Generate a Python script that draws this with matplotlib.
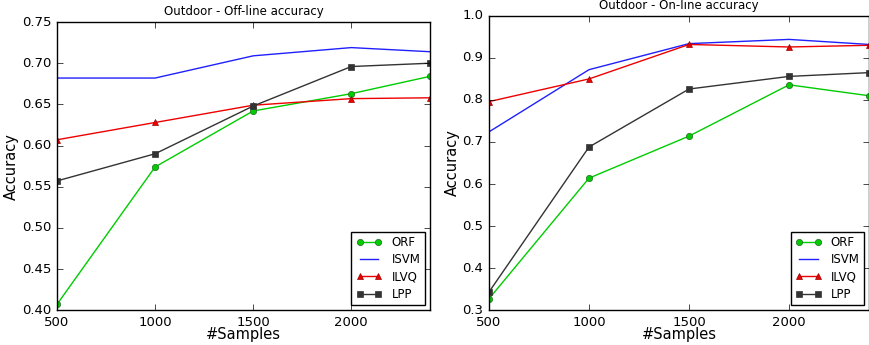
import matplotlib
matplotlib.use('Agg')
import matplotlib.pyplot as plt

plt.style.use('classic')

samples = [500, 1000, 1500, 2000, 2400]

off_orf = [0.407, 0.574, 0.642, 0.663, 0.684]
off_isvm = [0.682, 0.682, 0.709, 0.719, 0.714]
off_ilvq = [0.607, 0.628, 0.649, 0.657, 0.658]
off_lpp = [0.557, 0.590, 0.648, 0.696, 0.700]

on_orf = [0.327, 0.614, 0.714, 0.836, 0.810]
on_isvm = [0.724, 0.872, 0.934, 0.944, 0.932]
on_ilvq = [0.796, 0.850, 0.932, 0.926, 0.930]
on_lpp = [0.343, 0.688, 0.826, 0.856, 0.865]


def draw(ax, orf, isvm, ilvq, lpp, title, ylim, yticks):
    ax.plot(samples, orf, color='#00cc00', marker='o', markersize=4.5,
            markerfacecolor='#00cc00', markeredgecolor='#226622', lw=1, label='ORF')
    ax.plot(samples, isvm, color='#2020ff', lw=1, label='ISVM')
    ax.plot(samples, ilvq, color='#ee0000', marker='^', markersize=4.5,
            markerfacecolor='#ee0000', markeredgecolor='#990000', lw=1, label='ILVQ')
    ax.plot(samples, lpp, color='#333333', marker='s', markersize=4.5,
            markerfacecolor='#333333', markeredgecolor='#333333', lw=1, label='LPP')
    ax.set_xlim(500, 2400)
    ax.set_ylim(*ylim)
    ax.set_xticks([500, 1000, 1500, 2000])
    ax.set_yticks(yticks)
    ax.tick_params(labelsize=9.5)
    ax.set_title(title, fontsize=8.5)
    ax.set_xlabel('#Samples', fontsize=10.5, labelpad=-1)
    ax.set_ylabel('Accuracy', fontsize=10.5, labelpad=2)
    ax.legend(loc='lower right', fontsize=8.5, numpoints=2, handlelength=2.2,
              labelspacing=0.35, borderaxespad=0.4)


fig = plt.figure(figsize=(8.7, 3.45), dpi=100)
fig.patch.set_facecolor('white')
ax1 = fig.add_axes([0.0655, 0.101, 0.4285, 0.835])
ax2 = fig.add_axes([0.562, 0.101, 0.437, 0.853])

draw(ax1, off_orf, off_isvm, off_ilvq, off_lpp, 'Outdoor - Off-line accuracy',
     (0.40, 0.75), [0.40, 0.45, 0.50, 0.55, 0.60, 0.65, 0.70, 0.75])
ax1.set_yticklabels(['%.2f' % v for v in ax1.get_yticks()])
draw(ax2, on_orf, on_isvm, on_ilvq, on_lpp, 'Outdoor - On-line accuracy',
     (0.3, 1.0), [0.3, 0.4, 0.5, 0.6, 0.7, 0.8, 0.9, 1.0])
ax2.set_yticklabels(['%.1f' % v for v in ax2.get_yticks()])

fig.savefig('out.png', dpi=100, facecolor='white')
